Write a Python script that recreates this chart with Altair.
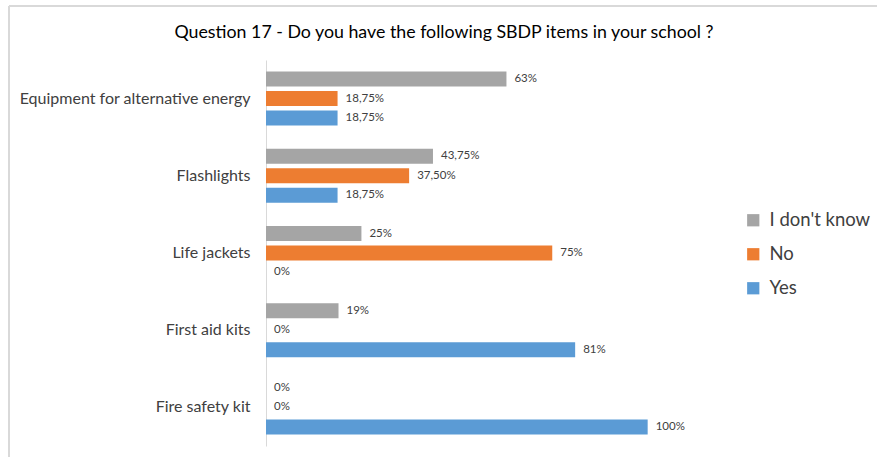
import altair as alt
import pandas as pd

items = ["Equipment for alternative energy", "Flashlights", "Life jackets", "First aid kits", "Fire safety kit"]
series = ["I don't know", "No", "Yes"]
colors = ["#A5A5A5", "#ED7D31", "#5B9BD5"]
dont_know = [63, 43.75, 25, 19, 0]
no = [18.75, 37.5, 75, 0, 0]
yes = [18.75, 18.75, 0, 81, 100]
dont_know_lbl = ["63%", "43,75%", "25%", "19%", "0%"]
no_lbl = ["18,75%", "37,50%", "75%", "0%", "0%"]
yes_lbl = ["18,75%", "18,75%", "0%", "81%", "100%"]

rows = []
for s, vals, lbls in [(series[0], dont_know, dont_know_lbl), (series[1], no, no_lbl), (series[2], yes, yes_lbl)]:
    for it, v, l in zip(items, vals, lbls):
        rows.append({"item": it, "series": s, "value": v, "label": l})
df = pd.DataFrame(rows)

FONT = "Lato"
PW, PH = 458, 386

y_enc = alt.Y("item:N", sort=items, title=None,
              scale=alt.Scale(paddingInner=0, paddingOuter=0),
              axis=alt.Axis(domainColor="#D9D9D9", ticks=False, labelFontSize=16,
                            labelColor="#404040", labelFont=FONT, labelPadding=16,
                            labelLimit=300))
yoff = alt.YOffset("series:N", sort=series,
                   scale=alt.Scale(paddingInner=0.23, paddingOuter=0.595))
x_enc = alt.X("value:Q", scale=alt.Scale(domain=[0, 120]), axis=None)

bars = alt.Chart(df).mark_bar(size=15).encode(
    x=x_enc, y=y_enc, yOffset=yoff,
    color=alt.Color("series:N", sort=series,
                    scale=alt.Scale(domain=series, range=colors),
                    legend=alt.Legend(title=None, orient="none", legendX=478, legendY=151,
                                      symbolType="square", symbolSize=150,
                                      symbolStrokeWidth=0, labelFontSize=18.5,
                                      labelFont=FONT, labelColor="#404040",
                                      rowPadding=15, labelOffset=7))
)

text = alt.Chart(df).mark_text(align="left", baseline="middle", dx=8, fontSize=11.5,
                               font=FONT, color="#404040").encode(
    x=x_enc, y=alt.Y("item:N", sort=items), yOffset=yoff, text="label:N"
)

border_top = alt.Chart(df).mark_rule(color="#D9D9D9", strokeWidth=1.5).encode(
    x=alt.value(-257), x2=alt.value(620), y=alt.value(-54))
border_left = alt.Chart(df).mark_rule(color="#D9D9D9", strokeWidth=1.5).encode(
    x=alt.value(-257), y=alt.value(-54), y2=alt.value(400))

chart = alt.layer(border_top, border_left, bars, text).properties(
    width=PW, height=PH,
    background="white",
    autosize=alt.AutoSizeParams(type="none"),
    padding={"left": 266, "top": 60, "right": 153, "bottom": 11},
    title=alt.TitleParams("Question 17 - Do you have the following SBDP items in your school ?",
                          fontSize=17.8, font=FONT, fontWeight="normal", color="#000000",
                          anchor="middle", dx=-51, dy=57, offset=20)
).configure_view(strokeWidth=0, stroke="transparent")

chart.save("out.html", embed_options={"renderer": "svg", "actions": False})
